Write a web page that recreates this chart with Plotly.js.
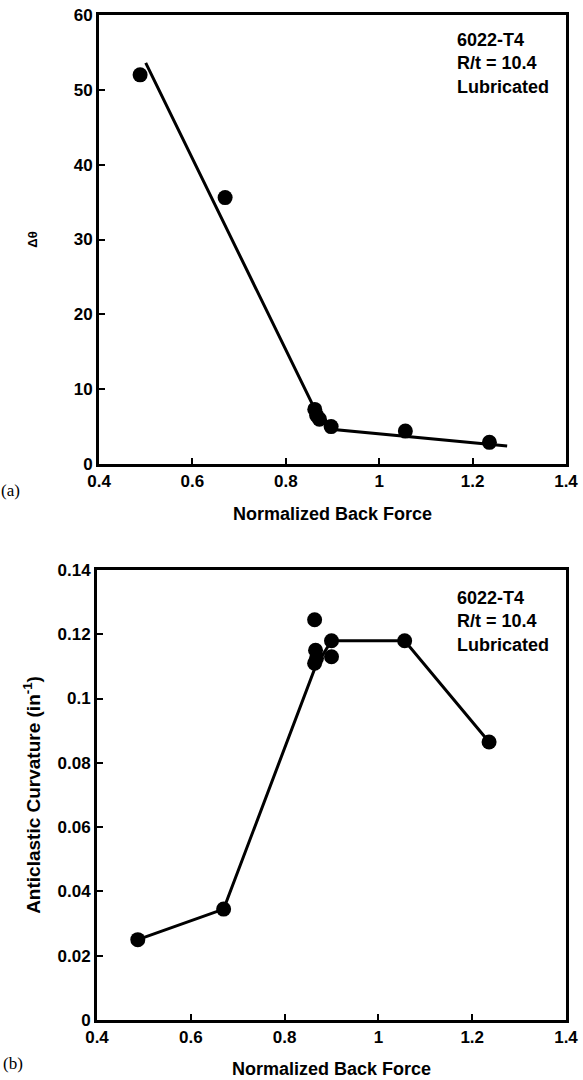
<!DOCTYPE html>
<html>
<head>
<meta charset="utf-8">
<script src="https://cdn.plot.ly/plotly-3.0.1.min.js"></script>
<style>html,body{margin:0;padding:0;background:#fff;}#chart{width:583px;height:1080px;}</style>
</head>
<body>
<div id="chart"></div>
<script>
// Panel (a): Δθ vs normalized back force
const forceA = [0.488, 0.670, 0.862, 0.866, 0.872, 0.897, 1.056, 1.236];
const dthetaA = [52.0, 35.6, 7.3, 6.5, 6.0, 5.0, 4.4, 2.9];
const fitForceA = [0.500, 0.860, 0.903, 1.274];
const fitDthetaA = [53.6, 7.6, 4.6, 2.4];

// Panel (b): anticlastic curvature vs normalized back force
const forceB = [0.487, 0.670, 0.864, 0.866, 0.864, 0.868, 0.900, 0.900, 1.056, 1.236];
const curvB = [0.025, 0.0345, 0.1245, 0.1150, 0.1110, 0.1125, 0.1180, 0.1130, 0.1180, 0.0865];
const lineForceB = [0.487, 0.670, 0.866, 0.900, 1.056, 1.236];
const lineCurvB = [0.025, 0.0345, 0.1100, 0.1180, 0.1180, 0.0865];

const xTicks = [0.4, 0.6, 0.8, 1, 1.2, 1.4];
const yTicksA = [0, 10, 20, 30, 40, 50, 60];
const yTicksB = [0, 0.02, 0.04, 0.06, 0.08, 0.1, 0.12, 0.14];
const noteLines = ['6022-T4', 'R/t = 10.4', 'Lubricated'];

const FONT = 'Liberation Sans, Arial, Helvetica, sans-serif';
const tickFont = {family: FONT, size: 17, color: '#000', weight: 'bold'};
const titleFont = {family: FONT, size: 18, color: '#000', weight: 'bold'};
const noteFont = {family: FONT, size: 18, color: '#000', weight: 'bold'};

const mk = {color: '#000', size: 15};
const ln = {color: '#000', width: 3};

const traces = [
  {x: fitForceA, y: fitDthetaA, mode: 'lines', line: ln, xaxis: 'x', yaxis: 'y', hoverinfo: 'skip'},
  {x: forceA, y: dthetaA, mode: 'markers', marker: mk, xaxis: 'x', yaxis: 'y'},
  {x: lineForceB, y: lineCurvB, mode: 'lines', line: ln, xaxis: 'x2', yaxis: 'y2', hoverinfo: 'skip'},
  {x: forceB, y: curvB, mode: 'markers', marker: mk, xaxis: 'x2', yaxis: 'y2'}
];

function axisBase(extra) {
  return Object.assign({
    showline: true, linewidth: 3, linecolor: '#000', mirror: true,
    ticks: 'inside', ticklen: 6, tickwidth: 2, tickcolor: '#000',
    showgrid: false, zeroline: false, tickfont: tickFont, fixedrange: true
  }, extra);
}

const layout = {
  width: 583, height: 1080,
  margin: {l: 97, r: 17, t: 15, b: 60},
  paper_bgcolor: '#fff', plot_bgcolor: '#fff',
  showlegend: false,
  xaxis: axisBase({domain: [0.0043, 1], range: [0.4, 1.4], tickvals: xTicks, anchor: 'y',
    title: {text: 'Normalized Back Force', font: titleFont, standoff: 17}}),
  yaxis: axisBase({domain: [0.5532, 1], range: [0, 60], tickvals: yTicksA, anchor: 'x',
    title: {text: 'Δθ', font: {family: FONT, size: 13, color: '#000', weight: 'bold'}, standoff: 34}}),
  xaxis2: axisBase({domain: [0, 1], range: [0.4, 1.4], tickvals: xTicks, anchor: 'y2',
    title: {text: 'Normalized Back Force', font: titleFont, standoff: 16}}),
  yaxis2: axisBase({domain: [0, 0.4478], range: [0, 0.14], tickvals: yTicksB, anchor: 'x2',
    title: {text: 'Anticlastic Curvature (in<sup>-1</sup>)', font: {family: FONT, size: 19, color: '#000', weight: 'bold'}, standoff: 12}}),
  annotations: [
    {xref: 'paper', yref: 'paper', x: 0.763, y: 0.987, xanchor: 'left', yanchor: 'top', align: 'left',
      showarrow: false, text: noteLines.join('<br>'), font: noteFont},
    {xref: 'paper', yref: 'paper', x: 0.763, y: 0.4478 - 0.016, xanchor: 'left', yanchor: 'top', align: 'left',
      showarrow: false, text: noteLines.join('<br>'), font: noteFont},
    {xref: 'paper', yref: 'paper', x: -0.21, y: 0.5383, xanchor: 'left', yanchor: 'top',
      showarrow: false, text: '(a)', font: {family: 'Liberation Serif, Times New Roman, serif', size: 17, color: '#000'}},
    {xref: 'paper', yref: 'paper', x: -0.205, y: -0.032, xanchor: 'left', yanchor: 'top',
      showarrow: false, text: '(b)', font: {family: 'Liberation Serif, Times New Roman, serif', size: 17, color: '#000'}}
  ]
};

Plotly.newPlot('chart', traces, layout, {displayModeBar: false, staticPlot: true});
</script>
</body>
</html>
